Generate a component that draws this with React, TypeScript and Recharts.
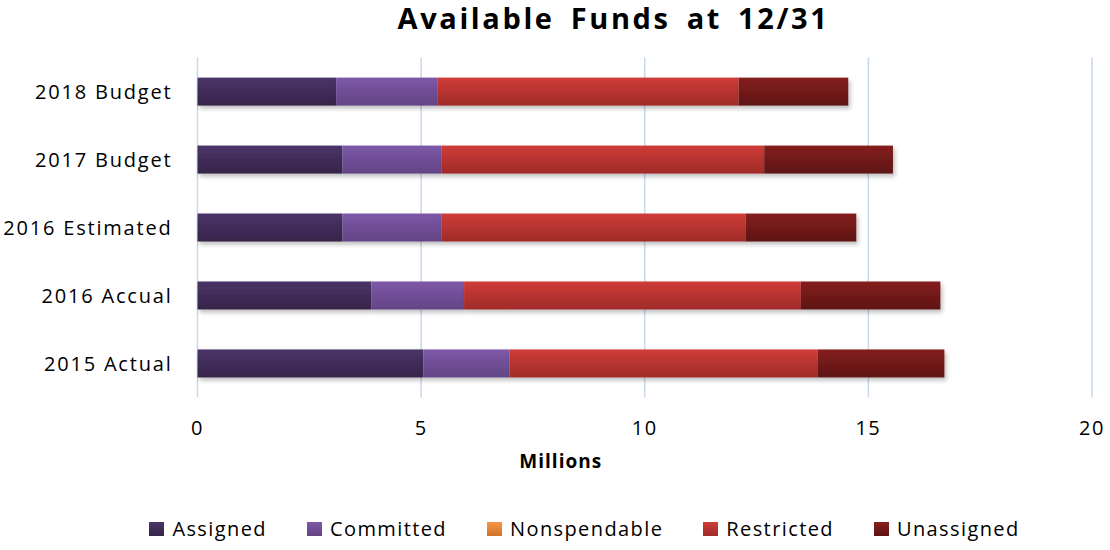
import React from "react";
import { BarChart, Bar, XAxis, YAxis, CartesianGrid, Legend, Label } from "recharts";

const categories = ["2018 Budget", "2017 Budget", "2016 Estimated", "2016 Accual", "2015 Actual"];
const assigned = [3.10, 3.24, 3.24, 3.89, 5.05];
const committed = [2.26, 2.21, 2.21, 2.07, 1.93];
const nonspendable = [0, 0, 0, 0, 0];
const restricted = [6.74, 7.22, 6.81, 7.53, 6.89];
const unassigned = [2.45, 2.88, 2.47, 3.12, 2.83];
const xTicks = [0, 5, 10, 15, 20];

const seriesNames = ["Assigned", "Committed", "Nonspendable", "Restricted", "Unassigned"];
const seriesKeys = ["assigned", "committed", "nonspendable", "restricted", "unassigned"];
const gradTop = ["#4b3468", "#7d58a8", "#f79646", "#cf3c38", "#84201f"];
const gradBottom = ["#362449", "#634484", "#d0742a", "#9f2b29", "#5e1313"];

const data = categories.map((name, i) => ({
  name,
  assigned: assigned[i],
  committed: committed[i],
  nonspendable: nonspendable[i],
  restricted: restricted[i],
  unassigned: unassigned[i],
}));

const FONT = "'Open Sans', sans-serif";

const BarShape = (props: any) => {
  const { x, y, width, height, fill } = props;
  if (!width || width <= 0) return null;
  return <rect x={x} y={y} width={width} height={height} fill={fill} filter="url(#shadow)" />;
};

const LegendContent = () => (
  <div
    style={{
      display: "flex",
      justifyContent: "center",
      fontFamily: FONT,
      fontSize: 20,
      letterSpacing: 1.4,
      color: "#000",
      paddingLeft: 59,
    }}
  >
    {seriesNames.map((n, i) => (
      <div key={n} style={{ display: "flex", alignItems: "center", marginRight: i < 4 ? 40 : 0 }}>
        <div
          style={{
            width: 15,
            height: 14,
            marginRight: 8,
            background: `linear-gradient(${gradTop[i]}, ${gradBottom[i]})`,
          }}
        />
        <span>{n}</span>
      </div>
    ))}
  </div>
);

export default function App() {
  return (
    <div style={{ position: "absolute", left: 0, top: 0, width: 1110, height: 550, background: "#fff" }}>
      <div
        style={{
          position: "absolute",
          top: 3,
          left: 0,
          width: 1110,
          paddingLeft: 117,
          boxSizing: "border-box",
          textAlign: "center",
          fontFamily: FONT,
          fontWeight: 700,
          fontSize: 29,
          lineHeight: "30px",
          letterSpacing: 2.6,
          wordSpacing: 6,
          color: "#000",
        }}
      >
        Available Funds at 12/31
      </div>
      <BarChart
        width={1110}
        height={550}
        data={data}
        layout="vertical"
        margin={{ top: 57.6, right: 18, left: 0, bottom: 72.6 }}
        barSize={28}
      >
        <defs>
          {seriesKeys.map((k, i) => (
            <linearGradient key={k} id={`g-${k}`} x1="0" y1="0" x2="0" y2="1">
              <stop offset="0%" stopColor={gradTop[i]} />
              <stop offset="100%" stopColor={gradBottom[i]} />
            </linearGradient>
          ))}
          <filter id="shadow" x="-5%" y="-20%" width="110%" height="160%">
            <feDropShadow dx="2" dy="3" stdDeviation="2" floodColor="#000" floodOpacity="0.25" />
          </filter>
        </defs>
        <CartesianGrid horizontal={false} stroke="#c9d9ee" strokeWidth={1.5} />
        <XAxis
          type="number"
          domain={[0, 20]}
          ticks={xTicks}
          axisLine={false}
          tickLine={false}
          tickSize={0}
          tickMargin={23}
          height={80}
          tick={{ fontFamily: FONT, fontSize: 20, fill: "#000", letterSpacing: 1.5 }}
        >
          <Label
            value="Millions"
            position="insideBottom"
            offset={9}
            dx={-84}
            style={{ fontFamily: FONT, fontSize: 19, fontWeight: 700, fill: "#000", letterSpacing: 1 }}
          />
        </XAxis>
        <YAxis
          type="category"
          dataKey="name"
          width={197.5}
          axisLine={false}
          tickLine={false}
          tickSize={0}
          tickMargin={25}
          tick={{ fontFamily: FONT, fontSize: 20, fill: "#000", letterSpacing: 1.8 }}
        />
        <Legend
          layout="horizontal"
          verticalAlign="middle"
          align="center"
          wrapperStyle={{ top: 515, left: 0, width: 1110 }}
          content={<LegendContent />}
        />
        {seriesKeys.map((k, i) => (
          <Bar
            key={k}
            dataKey={k}
            name={seriesNames[i]}
            stackId="a"
            fill={`url(#g-${k})`}
            shape={<BarShape />}
            isAnimationActive={false}
          />
        ))}
      </BarChart>
    </div>
  );
}
